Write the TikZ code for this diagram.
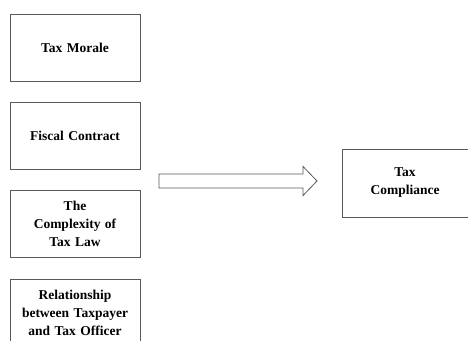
\documentclass[tikz,border=0pt]{standalone}
\usepackage{fontspec}
\setmainfont{Liberation Serif}
\usetikzlibrary{positioning,calc}

\begin{document}
\begin{tikzpicture}
  [x=1pt,y=-1pt,node distance=20.5pt,
   every node/.style={font=\bfseries\fontsize{13.5}{18}\selectfont},
   factor/.style={draw=black!65,line width=0.8pt,minimum width=130pt,
     minimum height=67pt,text width=124pt,align=center,inner sep=0pt},
   blockarrow/.style={draw=black!65,line width=0.8pt,line join=miter}]
\useasboundingbox (0,0) rectangle (468,340);
\clip (0,0) rectangle (468,340);
\node (morale)[factor] at (75,47.5) {Tax Morale};
  \node (fiscal)[factor,below=of morale] {Fiscal Contract};
  \node (complex)[factor,below=of fiscal] {The\\Complexity of\\Tax Law};
  \node (relation)[factor,below=of complex] {Relationship\\between Taxpayer\\and Tax Officer};
  \node (compliance)[factor,minimum width=126pt,minimum height=68pt] at (405,183) {Tax\\Compliance};

 % block arrow from the factors to compliance
 \coordinate (tail) at (159,181);
 \coordinate (tip) at (317,181);
 \draw[blockarrow] ($(tail)+(0,-7)$) -- ($(tip)+(-14,-7)$) -- ($(tip)+(-14,-14.5)$)
   -- (tip) -- ($(tip)+(-14,14.5)$) -- ($(tip)+(-14,7)$) -- ($(tail)+(0,7)$) -- cycle;

\end{tikzpicture}
\end{document}
